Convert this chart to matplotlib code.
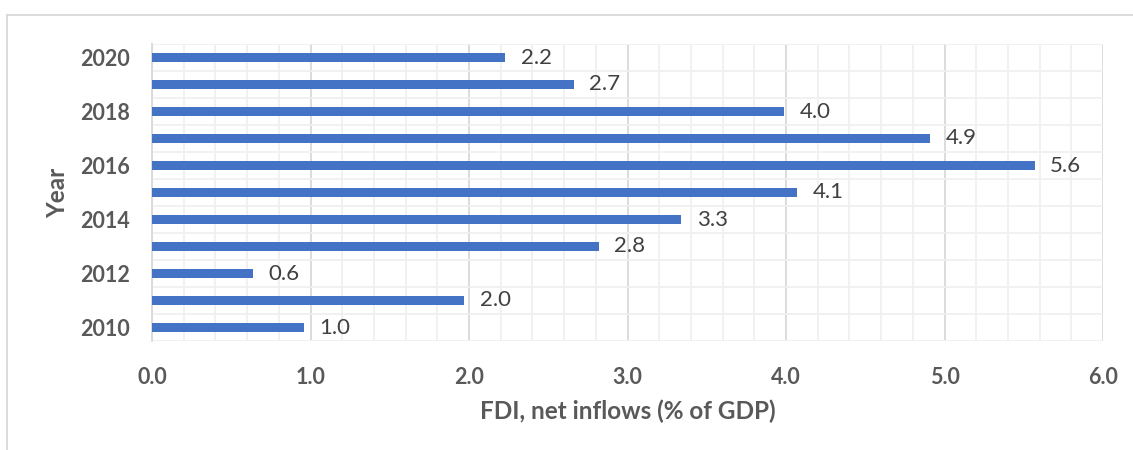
import numpy as np
import matplotlib
matplotlib.use("Agg")
import matplotlib.pyplot as plt
from matplotlib.lines import Line2D

# FDI, net inflows (% of GDP) by year
years = [2010, 2011, 2012, 2013, 2014, 2015, 2016, 2017, 2018, 2019, 2020]
fdi_values = [0.96, 1.97, 0.64, 2.82, 3.34, 4.07, 5.57, 4.91, 3.99, 2.66, 2.23]
year_tick_labels = ["2010", "", "2012", "", "2014", "", "2016", "", "2018", "", "2020"]
x_ticks = [0.0, 1.0, 2.0, 3.0, 4.0, 5.0, 6.0]

BAR_COLOR = "#4472C4"
TEXT_COLOR = "#595959"
LABEL_COLOR = "#404040"
MAJOR_GRID = "#d9d9d9"
MINOR_GRID = "#f0f0f0"

plt.rcParams["font.family"] = ["Lato", "DejaVu Sans"]

W, H = 1133, 450
fig = plt.figure(figsize=(W / 100, H / 100), dpi=100)

# chart frame (top and left edges)
fig.add_artist(Line2D([7 / W, 7 / W], [0, 1 - 15 / H], transform=fig.transFigure,
                      color=MAJOR_GRID, lw=1.3))
fig.add_artist(Line2D([7 / W, 1], [1 - 15 / H, 1 - 15 / H], transform=fig.transFigure,
                      color=MAJOR_GRID, lw=1.3))

left, right, top, bottom = 152, 1103, 44, 341
ax = fig.add_axes([left / W, 1 - bottom / H, (right - left) / W, (bottom - top) / H])

pos = np.arange(len(years))
bars = ax.barh(pos, fdi_values, height=0.34, color=BAR_COLOR, zorder=3)
ax.bar_label(bars, labels=[f"{v:.1f}" for v in fdi_values], padding=11,
             fontsize=16, color=LABEL_COLOR)

ax.set_xlim(0, 6.0)
ax.set_ylim(-0.5, len(years) - 0.5)

ax.set_xticks(x_ticks)
ax.set_xticklabels([f"{t:.1f}" for t in x_ticks], fontsize=15.5,
                   fontweight="bold", color=TEXT_COLOR)
ax.set_xticks(np.arange(0, 6.01, 0.2), minor=True)

ax.set_yticks(pos)
ax.set_yticklabels(year_tick_labels, fontsize=15.5, fontweight="bold", color=TEXT_COLOR)
ax.set_yticks(np.arange(-0.5, len(years), 0.5), minor=True)

ax.tick_params(axis="both", which="both", length=0)
ax.tick_params(axis="x", pad=19)
ax.tick_params(axis="y", pad=16)

ax.grid(axis="x", which="major", color=MAJOR_GRID, lw=1.3, zorder=1)
ax.grid(axis="both", which="minor", color=MINOR_GRID, lw=1.3, zorder=0)
ax.set_axisbelow(True)

for side in ["top", "right", "bottom"]:
    ax.spines[side].set_visible(False)
ax.spines["left"].set_color(MAJOR_GRID)
ax.spines["left"].set_linewidth(1.3)

ax.set_xlabel("FDI, net inflows (% of GDP)", fontsize=17.5, fontweight="bold",
              color=TEXT_COLOR, labelpad=8)
ax.set_ylabel("Year", fontsize=17.5, fontweight="bold", color=TEXT_COLOR, labelpad=8)

fig.savefig("out.png", dpi=100, facecolor="white")
